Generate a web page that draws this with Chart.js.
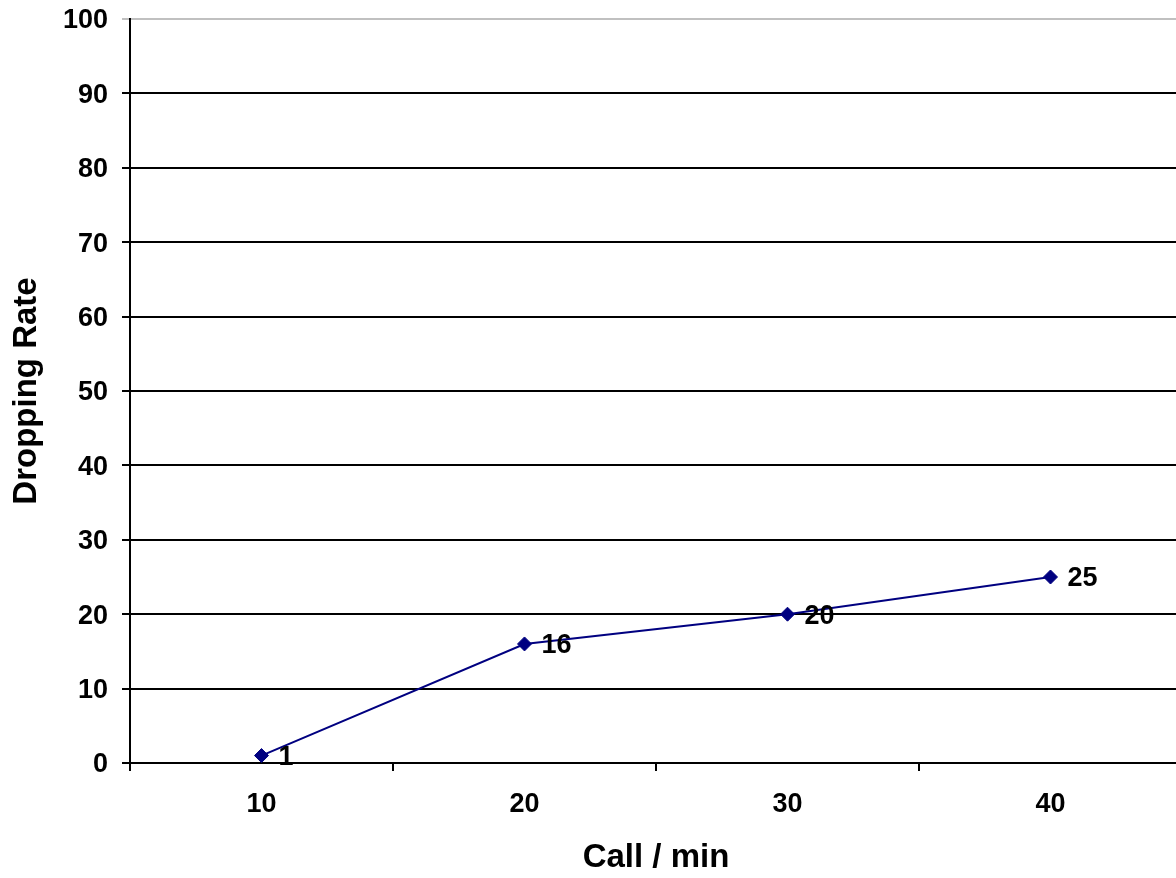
<!DOCTYPE html>
<html>
<head>
<meta charset="utf-8">
<script src="https://cdn.jsdelivr.net/npm/chart.js@4.4.0/dist/chart.umd.min.js"></script>
<style>
  html, body { margin: 0; padding: 0; background: #fff; overflow: hidden; }
  #wrap { width: 1176px; height: 878px; overflow: hidden; }
</style>
</head>
<body>
<div id="wrap"><canvas id="chart" width="1190" height="878"></canvas></div>
<script>
const categories = ["10", "20", "30", "40"];
const droppingRate = [1, 16, 20, 25];
const yTicks = [0, 10, 20, 30, 40, 50, 60, 70, 80, 90, 100];

const FONT = "'Liberation Sans', Arial, sans-serif";

// draws the value next to each point, like Excel data labels
const pointLabels = {
  id: "pointLabels",
  afterDatasetsDraw(chart) {
    const ctx = chart.ctx;
    const meta = chart.getDatasetMeta(0);
    ctx.save();
    ctx.font = "bold 27px " + FONT;
    ctx.fillStyle = "#000";
    ctx.textAlign = "left";
    ctx.textBaseline = "middle";
    meta.data.forEach((pt, i) => {
      ctx.fillText(String(droppingRate[i]), pt.x + 17, pt.y + 2);
    });
    ctx.restore();
  }
};

new Chart(document.getElementById("chart").getContext("2d"), {
  type: "line",
  data: {
    labels: categories,
    datasets: [{
      label: "Dropping Rate",
      data: droppingRate,
      borderColor: "#000080",
      backgroundColor: "#000080",
      borderWidth: 2,
      pointStyle: "rectRot",
      pointRadius: 7,
      pointBorderWidth: 1,
      pointBackgroundColor: "#000080",
      pointBorderColor: "#000080",
      tension: 0,
      fill: false
    }]
  },
  options: {
    responsive: false,
    animation: false,
    layout: { padding: { top: 19, right: 0, bottom: 0, left: 0 } },
    plugins: {
      legend: { display: false },
      tooltip: { enabled: false }
    },
    scales: {
      x: {
        type: "category",
        offset: true,
        afterFit: s => { s.height = 115; },
        grid: {
          offset: true,
          drawOnChartArea: false,
          drawTicks: true,
          tickLength: 8,
          color: "#000",
          lineWidth: 2
        },
        border: { display: true, color: "#000", width: 2 },
        ticks: {
          color: "#000",
          padding: 17,
          maxRotation: 0,
          font: { family: FONT, size: 27, weight: "bold" }
        },
        title: {
          display: true,
          text: "Call / min",
          color: "#000",
          padding: { top: 0, bottom: 0 },
          font: { family: FONT, size: 33, weight: "bold" }
        }
      },
      y: {
        min: 0,
        max: 100,
        afterFit: s => { s.width = 130; s.paddingTop = 0; s.paddingBottom = 0; },
        afterBuildTicks: s => { s.ticks = yTicks.map(v => ({ value: v })); },
        grid: {
          drawTicks: true,
          tickLength: 8,
          color: c => (c.tick && c.tick.value === 100 ? "#c0c0c0" : "#000"),
          lineWidth: 2
        },
        border: { display: true, color: "#000", width: 2 },
        ticks: {
          color: "#000",
          padding: 14,
          labelOffset: 2,
          font: { family: FONT, size: 27, weight: "bold" }
        },
        title: {
          display: true,
          text: "Dropping Rate",
          color: "#000",
          padding: { top: 7, bottom: 0 },
          font: { family: FONT, size: 33, weight: "bold" }
        }
      }
    }
  },
  plugins: [pointLabels]
});
</script>
</body>
</html>
